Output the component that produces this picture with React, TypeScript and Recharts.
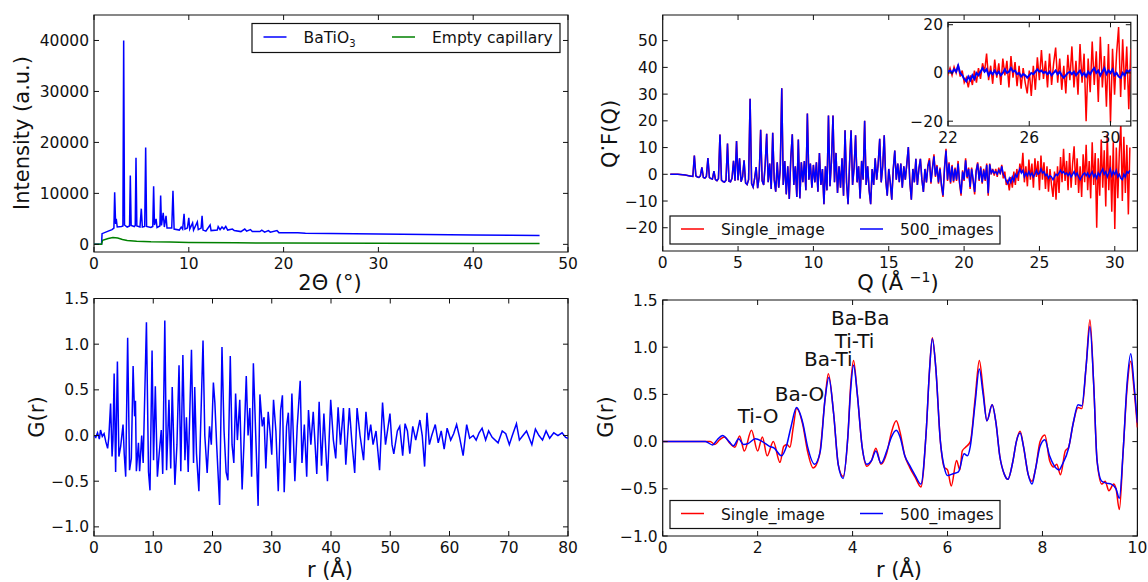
import { LineChart, Line, XAxis, YAxis, ReferenceArea, ReferenceDot, CartesianGrid } from 'recharts';

const FONT = '"DejaVu Sans", Verdana, sans-serif';
const BLUE = '#0000ff';
const RED = '#ff0000';
const GREEN = '#008000';

// ---- top left: raw diffraction pattern ----
const twoTheta = [
  0, 0.8, 0.85, 1.5, 1.9, 2.1, 2.18, 2.28, 2.35, 2.45,
  2.9, 3.05, 3.13, 3.22, 3.5, 3.75, 3.83, 3.92, 4.25, 4.35,
  4.43, 4.52, 4.85, 4.99, 5.1, 5.35, 5.45, 5.55, 6.0, 6.2,
  6.29, 6.38, 6.55, 6.65, 6.95, 7.03, 7.12, 7.3, 7.42, 7.6,
  7.7, 8.2, 8.33, 8.45, 9.0, 9.2, 9.35, 9.5, 9.6, 9.85,
  10.0, 10.1, 10.4, 10.5, 10.9, 11.0, 11.3, 11.4, 11.5, 11.8,
  12.25, 12.35, 13.0, 13.1, 13.3, 13.5, 13.7, 13.9, 14.1, 14.6,
  14.8, 15.5, 15.9, 16.1, 16.5, 16.7, 17.5, 17.7, 18.0, 18.4,
  18.6, 19.3, 19.5, 20.5, 21.5, 22.3, 25, 30, 35, 40,
  44, 47,
];
const batio3 = [
  0, 0, 2100, 2600, 2900, 3200, 10200, 4000, 5000, 3400,
  3500, 3600, 40000, 3800, 3400, 3600, 13500, 3700, 3500, 3700,
  17000, 3600, 3400, 7000, 3400, 3500, 19000, 3500, 3300, 3500,
  11400, 3800, 5000, 3300, 3600, 9600, 3700, 6200, 3400, 5600,
  3200, 3200, 10500, 3000, 2800, 3400, 3000, 6000, 3000, 3200,
  5200, 3000, 4200, 2800, 4400, 2900, 3200, 5600, 2800, 2600,
  3800, 2700, 2800, 3500, 2900, 3400, 3000, 3500, 2800, 3000,
  2700, 2500, 3000, 2600, 2900, 2500, 2500, 2800, 2400, 2700,
  2400, 2700, 2300, 2300, 2300, 2200, 2150, 2050, 1950, 1850,
  1800, 1750,
];
const capTheta = [0, 0.8, 0.9, 1.5, 2.0, 2.5, 3.0, 3.5, 4.5, 6, 8, 10, 15, 20, 30, 40, 47];
const capillary = [0, 0, 800, 1150, 1350, 1250, 950, 750, 600, 500, 450, 380, 300, 250, 200, 170, 150];

// ---- top right: reduced structure function ----
const qGrid = [
  0.5, 1.0, 1.5, 1.8,
  2.0, 2.1, 2.2, 2.3, 2.4, 2.5, 2.6, 2.7, 2.8, 2.9,
  3.0, 3.1, 3.2, 3.3, 3.4, 3.5, 3.6, 3.7, 3.8, 3.9,
  4.0, 4.1, 4.2, 4.3, 4.4, 4.5, 4.6, 4.7, 4.8, 4.9,
  5.0, 5.1, 5.2, 5.3, 5.4, 5.5, 5.6, 5.7, 5.8, 5.9,
  6.0, 6.1, 6.2, 6.3, 6.4, 6.5, 6.6, 6.7, 6.8, 6.9,
  7.0, 7.1, 7.2, 7.3, 7.4, 7.5, 7.6, 7.7, 7.8, 7.9,
  8.0, 8.1, 8.2, 8.3, 8.4, 8.5, 8.6, 8.7, 8.8, 8.9,
  9.0, 9.1, 9.2, 9.3, 9.4, 9.5, 9.6, 9.7, 9.8, 9.9,
  10.0, 10.1, 10.2, 10.3, 10.4, 10.5, 10.6, 10.7, 10.8, 10.9,
  11.0, 11.1, 11.2, 11.3, 11.4, 11.5, 11.6, 11.7, 11.8, 11.9,
  12.0, 12.1, 12.2, 12.3, 12.4, 12.5, 12.6, 12.7, 12.8, 12.9,
  13.0, 13.1, 13.2, 13.3, 13.4, 13.5, 13.6, 13.7, 13.8, 13.9,
  14.0, 14.1, 14.2, 14.3, 14.4, 14.5, 14.6, 14.7, 14.8, 14.9,
  15.0, 15.1, 15.2, 15.3, 15.4, 15.5, 15.6, 15.7, 15.8, 15.9,
  16.0, 16.1, 16.2, 16.3, 16.4, 16.5, 16.6, 16.7, 16.8, 16.9,
  17.0, 17.1, 17.2, 17.3, 17.4, 17.5, 17.6, 17.7, 17.8, 17.9,
  18.0, 18.1, 18.2, 18.3, 18.4, 18.5, 18.6, 18.7, 18.8, 18.9,
  19.0, 19.1, 19.2, 19.3, 19.4, 19.5, 19.6, 19.7, 19.8, 19.9,
  20.0, 20.1, 20.2, 20.3, 20.4, 20.5, 20.6, 20.7, 20.8, 20.9,
  21.0, 21.1, 21.2, 21.3, 21.4, 21.5, 21.6, 21.7, 21.8, 21.9,
  22.0, 22.1, 22.2, 22.3, 22.4, 22.5, 22.6, 22.7, 22.8, 22.9,
  23.0, 23.1, 23.2, 23.3, 23.4, 23.5, 23.6, 23.7, 23.8, 23.9,
  24.0, 24.1, 24.2, 24.3, 24.4, 24.5, 24.6, 24.7, 24.8, 24.9,
  25.0, 25.1, 25.2, 25.3, 25.4, 25.5, 25.6, 25.7, 25.8, 25.9,
  26.0, 26.1, 26.2, 26.3, 26.4, 26.5, 26.6, 26.7, 26.8, 26.9,
  27.0, 27.1, 27.2, 27.3, 27.4, 27.5, 27.6, 27.7, 27.8, 27.9,
  28.0, 28.1, 28.2, 28.3, 28.4, 28.5, 28.6, 28.7, 28.8, 28.9,
  29.0, 29.1, 29.2, 29.3, 29.4, 29.5, 29.6, 29.7, 29.8, 29.9,
  30.0, 30.1, 30.2, 30.3, 30.4, 30.5, 30.6, 30.7, 30.8, 30.9,
  31.0,
];
const qf500 = [
  0.0, 0.0, -0.3, -0.6,
  -0.8, 7.0, -0.6, -1.0, -1.2, -0.6, 2.6, -1.2, -1.4, -0.8,
  6.1, -1.2, -1.6, -1.8, 1.2, -2.0, -2.4, -1.6, 14.9, -2.2,
  -2.7, -2.9, -2.2, 11.5, -2.6, -2.8, -1.5, 5.0, -2.4, 12.4,
  -2.2, 6.0, -2.8, -1.0, 5.2, -3.2, -3.8, -2.0, 28.3, -3.5,
  -4.8, -1.5, 2.7, -5.2, -1.0, 16.7, -2.5, -4.0, 3.5, 15.2,
  -3.0, 4.0, -5.5, 15.5, -2.0, -6.5, 4.5, -5.0, 2.0, 32.2,
  -4.0, 5.0, -7.5, 3.0, -9.2, 6.0, 15.0, -4.0, 3.0, -8.5,
  13.0, -9.0, 4.5, -3.0, 5.0, -6.0, 22.7, -2.0, 4.0, -5.0,
  3.5, -3.0, 4.5, -6.5, 8.0, -4.0, 2.0, -11.2, 3.0, -6.0,
  22.0, -4.5, 5.0, 22.0, -3.0, 8.0, -7.0, 3.0, -5.0, 6.0,
  -8.0, 16.5, -3.0, -11.2, 4.0, 16.5, -4.0, 2.5, 14.6, -3.0,
  3.0, -9.0, 5.0, -2.0, 20.0, -4.0, 3.0, -6.0, -11.2, 2.0,
  -4.0, 6.0, -2.0, 4.0, 13.3, -3.0, 3.0, 14.6, -2.0, -8.0,
  2.0, -3.0, -9.5, 2.0, 8.9, -2.0, 4.0, -3.0, 4.0, -5.0,
  3.0, -2.0, 4.0, 10.2, -3.0, -9.5, 2.0, -3.0, 5.8, -4.0,
  2.0, 5.8, -2.0, -6.6, 2.0, -3.0, 3.0, 5.2, -3.0, 2.0,
  6.7, -0.5, 3.0, -3.0, 2.0, -4.0, -7.9, 2.0, 8.9, -2.0,
  4.0, -3.0, 3.0, -2.5, 2.0, -2.0, 4.0, -3.0, -7.2, 1.0,
  -2.0, 5.2, -1.0, 2.0, -4.7, 2.0, -2.0, -6.6, 1.0, 4.0,
  -2.0, 2.5, -3.0, 1.5, -2.0, 3.5, -7.1, 3.7, 0.5, 1.5,
  0.5, 1.0, 0.0, 1.5, 0.5, 3.0, 0.0, -1.0, -2.5, -3.5,
  -1.5, -3.0, -1.0, -2.5, 0.0, -1.0, 0.5, 2.0, 0.5, 1.5,
  -1.0, 0.5, -0.5, 1.0, -0.5, 0.5, -1.0, 0.0, 1.5, 0.0,
  0.5, 2.0, 0.5, 1.0, -0.5, 0.0, -1.5, -0.5, -1.0, -2.0,
  -1.0, 0.0, -0.5, 0.5, 1.5, 0.5, 1.0, 0.0, 0.5, -0.5,
  0.5, -1.0, 0.0, 1.0, -0.5, 0.5, -1.0, -2.0, -1.0, 0.0,
  0.5, -0.5, 0.5, -1.0, 0.0, 1.0, -1.0, 0.0, -1.5, 0.5,
  -0.5, 1.0, 2.0, 0.0, 1.0, -1.0, 0.5, 2.0, -0.5, 1.0,
  0.0, 1.5, -1.0, 0.0, -1.5, -2.0, 0.0, -1.0, 1.0, 0.5,
  1.5,
];
// single image: identical to the averaged curve below Q = 17.6, noisy above
const qfSingleTail = [
  3.5, 6.0, -3.5, 2.5,
  7.5, -1.0, 3.5, -3.5, 2.5, -4.5, -8.5, 2.5, 9.5, -2.5,
  4.5, -3.5, 3.5, -3.0, 2.5, -2.5, 5.0, -3.5, -8.0, 1.5,
  -2.5, 6.0, -1.5, 2.5, -5.5, 2.5, -2.5, -7.5, 1.5, 4.5,
  -2.5, 3.0, -3.5, 2.0, -2.5, 4.0, -8.0, 4.0, 0.0, 2.0,
  -0.5, 2.0, -1.0, 2.5, 0.0, 3.5, -1.5, 1.0, -4.0, -2.0,
  -6.0, -1.0, -5.0, 1.0, -4.0, 2.0, -2.5, 4.0, 0.5, 8.0,
  -3.0, 3.0, -4.5, 5.5, -2.0, 4.0, -5.0, 6.0, -1.0, 5.0,
  -6.0, 7.0, -2.0, 4.5, -5.5, 3.0, -6.5, 2.0, -4.0, -8.5,
  1.0, -9.5, 3.0, -7.0, 6.5, -3.0, 9.5, -2.5, 5.0, -6.0,
  8.0, -5.0, 4.0, 10.5, -4.0, 6.0, -7.0, 3.0, -8.5, 7.5,
  -3.0, 11.0, -6.0, 5.0, -9.0, 12.0, -4.0, 8.0, -20.0, 6.0,
  -8.0, 13.0, -5.0, 9.0, -12.0, 15.0, -6.0, 7.0, -14.0, 12.0,
  -20.5, 10.0, -9.0, 8.0, 19.0, -10.0, 14.0, -7.0, 11.0, -15.0,
  10.0,
];
const qfSingle = [...qf500.slice(0, 160), ...qfSingleTail];

// ---- bottom left: PDF up to 80 A ----
const rLong = [
  0.0, 0.3, 0.6, 0.9, 1.1, 1.4, 1.7, 2.0, 2.3, 2.5,
  2.8, 3.05, 3.2, 3.4, 3.65, 3.95, 4.2, 4.5, 4.9, 5.1,
  5.35, 5.68, 6.0, 6.3, 6.6, 6.85, 7.0, 7.15, 7.5, 7.7,
  8.05, 8.3, 8.85, 9.2, 9.45, 9.8, 10.05, 10.35, 10.7, 11.0,
  11.35, 11.6, 11.95, 12.25, 12.65, 12.95, 13.2, 13.65, 14.0, 14.35,
  14.65, 15.0, 15.35, 15.6, 15.9, 16.45, 16.8, 17.0, 17.3, 17.7,
  18.4, 18.7, 19.1, 19.5, 19.8, 20.15, 20.4, 20.7, 21.2, 21.6,
  21.95, 22.3, 22.6, 23.0, 23.3, 23.6, 23.9, 24.2, 24.6, 25.0,
  25.3, 25.7, 26.0, 26.3, 26.6, 26.9, 27.3, 27.7, 28.0, 28.4,
  28.7, 29.0, 29.4, 29.7, 30.0, 30.3, 30.7, 31.1, 31.5, 31.8,
  32.1, 32.5, 32.8, 33.1, 33.4, 33.9, 34.3, 34.8, 35.1, 35.5,
  35.9, 36.2, 36.6, 37.0, 37.6, 38.0, 38.4, 38.8, 39.4, 39.95,
  40.4, 40.8, 41.2, 41.6, 42.1, 42.5, 43.1, 43.5, 44.0, 44.4,
  44.9, 45.5, 45.9, 46.3, 46.7, 47.1, 47.6, 48.2, 48.7, 49.2,
  49.95, 50.3, 50.6, 51.2, 51.6, 52.1, 52.5, 52.9, 53.3, 53.8,
  54.3, 55.0, 55.4, 55.8, 56.2, 56.6, 57.0, 57.6, 58.1, 58.6,
  59.1, 59.6, 60.2, 60.7, 61.2, 61.7, 62.3, 62.9, 63.4, 64.0,
  64.5, 65.0, 65.5, 66.1, 66.6, 67.2, 68.2, 68.9, 69.5, 70.1,
  70.6, 71.3, 71.8, 72.4, 73.0, 73.9, 74.5, 75.1, 75.7, 76.3,
  76.9, 77.6, 78.3, 79.0, 79.6, 80.0,
];
const gLong = [
  0.0, -0.02, 0.03, -0.04, 0.06, -0.01, 0.02, -0.07, -0.14, -0.02,
  0.35, -0.23, -0.05, 0.68, -0.4, 0.81, -0.23, -0.12, 0.12, -0.2,
  -0.45, 1.07, -0.38, -0.25, 0.76, 0.21, 0.38, -0.39, -0.08, -0.39,
  0.0, -0.3, 1.24, -0.4, -0.6, 0.93, -0.27, 0.54, -0.45, -0.2,
  0.06, -0.42, 1.26, -0.38, 0.39, -0.36, 0.53, -0.54, -0.1, 0.77,
  -0.39, 0.88, -0.27, 0.2, -0.4, 0.94, -0.3, 0.53, -0.2, -0.61,
  1.04, 0.0, -0.41, 0.1, -0.1, 0.58, 0.36, -0.1, -0.76, 0.97,
  0.05, -0.4, -0.49, 0.87, -0.1, -0.3, 0.46, -0.05, 0.39, -0.59,
  -0.1, 0.65, 0.0, 0.3, -0.45, 0.79, 0.0, -0.77, 0.45, 0.1,
  0.2, -0.36, 0.26, 0.05, -0.21, 0.39, 0.05, -0.61, 0.28, 0.44,
  -0.62, 0.1, 0.25, -0.3, 0.46, -0.5, 0.1, 0.6, -0.3, 0.12,
  -0.45, 0.28, -0.1, 0.26, -0.42, 0.37, -0.33, 0.24, -0.5, 0.39,
  -0.05, -0.25, 0.31, -0.1, 0.3, -0.32, 0.3, -0.05, -0.41, 0.3,
  0.0, -0.27, 0.26, -0.05, 0.12, -0.1, 0.05, -0.38, 0.36, -0.1,
  0.24, -0.1, -0.2, 0.05, 0.1, -0.22, 0.13, 0.05, -0.2, 0.1,
  -0.05, 0.17, 0.0, -0.34, 0.25, -0.1, 0.0, 0.12, -0.08, 0.05,
  -0.15, 0.08, -0.05, 0.02, 0.12, -0.02, -0.22, 0.12, -0.03, 0.0,
  -0.05, 0.03, 0.08, -0.05, 0.05, -0.02, -0.08, 0.05, 0.02, -0.1,
  0.0, 0.13, -0.05, 0.0, 0.05, -0.1, 0.07, 0.0, -0.05, 0.05,
  -0.03, 0.03, 0.0, 0.03, -0.02, -0.03,
];

// ---- bottom right: PDF up to 10 A ----
const rShort500 = [
  0, 0.9, 1.05, 1.15, 1.26, 1.4, 1.49, 1.6, 1.7, 1.8,
  1.95, 2.1, 2.25, 2.35, 2.5, 2.6, 2.7, 2.82, 2.95, 3.05,
  3.2, 3.32, 3.42, 3.5, 3.6, 3.7, 3.8, 3.9, 3.96, 4.02,
  4.1, 4.2, 4.3, 4.4, 4.49, 4.6, 4.72, 4.82, 4.92, 5.0,
  5.1, 5.2, 5.32, 5.44, 5.55, 5.62, 5.68, 5.75, 5.85, 5.93,
  6.0, 6.12, 6.23, 6.35, 6.42, 6.48, 6.58, 6.67, 6.75, 6.83,
  6.94, 7.02, 7.1, 7.2, 7.27, 7.38, 7.45, 7.53, 7.6, 7.7,
  7.78, 7.85, 7.95, 8.05, 8.15, 8.24, 8.35, 8.42, 8.55, 8.65,
  8.75, 8.83, 8.92, 9.0, 9.08, 9.15, 9.25, 9.35, 9.45, 9.55,
  9.62, 9.7, 9.78, 9.86, 9.93, 10.0,
];
const g500 = [
  0, 0, -0.035, 0.02, 0.065, 0.0, -0.045, 0.03, -0.03, -0.02,
  0.03, 0.0, -0.05, -0.07, -0.15, -0.06, 0.15, 0.36, 0.2, -0.05,
  -0.24, -0.1, 0.45, 0.68, 0.3, -0.25, -0.39, 0.05, 0.55, 0.81,
  0.5, -0.05, -0.24, -0.2, -0.1, -0.23, -0.1, 0.05, 0.12, 0.05,
  -0.15, -0.25, -0.36, -0.45, 0.1, 0.75, 1.09, 0.8, 0.0, -0.27,
  -0.36, -0.34, -0.32, -0.13, -0.15, -0.05, 0.4, 0.77, 0.5, 0.22,
  0.39, 0.2, -0.15, -0.35, -0.4, -0.2, 0.0, 0.09, -0.05, -0.35,
  -0.45, -0.3, -0.05, 0.02, -0.15, -0.25, -0.3, -0.24, -0.07, 0.2,
  0.39, 0.38, 0.8, 1.22, 0.6, -0.2, -0.42, -0.44, -0.45, -0.5,
  -0.6, -0.1, 0.6, 0.93, 0.6, 0.2,
];
const rShortSingle = [
  0, 0.9, 1.0, 1.1, 1.2, 1.3, 1.42, 1.52, 1.62, 1.72,
  1.87, 2.0, 2.1, 2.2, 2.33, 2.47, 2.55, 2.62, 2.68, 2.75,
  2.82, 2.95, 3.05, 3.17, 3.3, 3.42, 3.49, 3.6, 3.7, 3.8,
  3.9, 3.96, 4.02, 4.1, 4.2, 4.3, 4.4, 4.49, 4.6, 4.72,
  4.82, 4.92, 5.0, 5.1, 5.2, 5.32, 5.44, 5.55, 5.62, 5.68,
  5.75, 5.85, 5.93, 6.0, 6.08, 6.19, 6.26, 6.31, 6.38, 6.48,
  6.58, 6.67, 6.75, 6.83, 6.94, 7.02, 7.1, 7.2, 7.27, 7.38,
  7.45, 7.53, 7.6, 7.7, 7.78, 7.85, 7.95, 8.05, 8.15, 8.24,
  8.3, 8.38, 8.48, 8.55, 8.65, 8.75, 8.83, 8.92, 9.0, 9.08,
  9.15, 9.25, 9.32, 9.4, 9.5, 9.55, 9.62, 9.7, 9.78, 9.86,
  9.93, 10.0,
];
const gSingle = [
  0, 0, 0.0, -0.03, 0.02, 0.05, -0.02, -0.06, 0.06, -0.1,
  0.12, -0.1, 0.05, -0.15, 0.0, -0.22, -0.05, -0.03, -0.06, 0.15,
  0.35, 0.18, -0.1, -0.28, -0.15, 0.45, 0.72, 0.3, -0.25, -0.37,
  0.05, 0.6, 0.86, 0.5, -0.05, -0.26, -0.2, -0.07, -0.24, -0.12,
  0.1, 0.22, 0.1, -0.15, -0.27, -0.38, -0.48, 0.1, 0.75, 1.1,
  0.8, 0.0, -0.27, -0.3, -0.47, -0.2, -0.3, -0.1, -0.06, 0.0,
  0.45, 0.86, 0.55, 0.22, 0.39, 0.2, -0.15, -0.35, -0.4, -0.2,
  0.0, 0.11, -0.05, -0.35, -0.42, -0.3, 0.0, 0.07, -0.2, -0.27,
  -0.24, -0.35, -0.1, -0.06, 0.2, 0.36, 0.35, 0.8, 1.29, 0.6,
  -0.2, -0.45, -0.42, -0.52, -0.45, -0.5, -0.72, -0.1, 0.55, 0.85,
  0.55, 0.15,
];

const peakLabels = [
  { text: 'Ti-O', r: 2.01, g: 0.195 },
  { text: 'Ba-O', r: 2.88, g: 0.425 },
  { text: 'Ba-Ti', r: 3.49, g: 0.8 },
  { text: 'Ti-Ti', r: 4.04, g: 0.99 },
  { text: 'Ba-Ba', r: 4.16, g: 1.24 },
];

const seriesNames = { batio3: 'BaTiO', capillary: 'Empty capillary', single: 'Single_image', avg: '500_images' };

const toPoints = (xs: number[], ys: number[]) => xs.map((x, i) => ({ x, y: ys[i] }));

const minus = (s: string) => s.replace('-', '\u2212');
const fmtInt = (v: number) => minus(String(v));
const fmt1 = (v: number) => minus(v.toFixed(1));

const TICK_FONT = 15.5;

type Margin = { top: number; right: number; bottom: number; left: number };

const xTick = (top: number, bottom: number, fmt: (v: number) => string) => (p: any) => (
  <g>
    <line x1={p.x} x2={p.x} y1={bottom} y2={bottom - 5} stroke="#111" />
    <line x1={p.x} x2={p.x} y1={top} y2={top + 5} stroke="#111" />
    <text x={p.x} y={bottom + 17} textAnchor="middle" fontSize={TICK_FONT} fontFamily={FONT} fill="#111">
      {fmt(p.payload.value)}
    </text>
  </g>
);

const yTick = (left: number, right: number, fmt: (v: number) => string) => (p: any) => (
  <g>
    <line x1={left} x2={left + 5} y1={p.y} y2={p.y} stroke="#111" />
    <line x1={right} x2={right - 5} y1={p.y} y2={p.y} stroke="#111" />
    <text x={left - 5} y={p.y + 5.5} textAnchor="end" fontSize={TICK_FONT} fontFamily={FONT} fill="#111">
      {fmt(p.payload.value)}
    </text>
  </g>
);

interface PanelProps {
  left: number;
  top: number;
  width: number;
  height: number;
  plot: Margin; // distance of the plot frame from each chart edge
  xDomain: [number, number];
  yDomain: [number, number];
  xTicks: number[];
  yTicks: number[];
  xFmt: (v: number) => string;
  yFmt: (v: number) => string;
  background?: string;
  children?: any;
}

// axes are given 1px of size so recharts renders their ticks; the margin makes up the rest
function Panel({ left, top, width, height, plot, xDomain, yDomain, xTicks, yTicks, xFmt, yFmt, background, children }: PanelProps) {
  const plotTop = plot.top;
  const plotBottom = height - plot.bottom;
  const plotLeft = plot.left;
  const plotRight = width - plot.right;
  const margin = { top: plot.top, right: plot.right, bottom: plot.bottom - 1, left: plot.left - 1 };
  return (
    <div className="fig-panel" style={{ position: 'absolute', left, top }}>
      <LineChart width={width} height={height} margin={margin}>
        {background && <CartesianGrid horizontal={false} vertical={false} fill={background} stroke="none" />}
        <XAxis
          type="number"
          dataKey="x"
          domain={xDomain}
          ticks={xTicks}
          interval={0}
          allowDataOverflow
          height={1}
          axisLine={false}
          tickLine={false}
          tick={xTick(plotTop, plotBottom, xFmt)}
        />
        <YAxis
          type="number"
          dataKey="y"
          domain={yDomain}
          ticks={yTicks}
          interval={0}
          allowDataOverflow
          width={1}
          axisLine={false}
          tickLine={false}
          tick={yTick(plotLeft, plotRight, yFmt)}
        />
        <ReferenceArea x1={xDomain[0]} x2={xDomain[1]} y1={yDomain[0]} y2={yDomain[1]} fill="none" stroke="#111" strokeWidth={1.2} />
        {children}
      </LineChart>
    </div>
  );
}

const lineProps = { type: 'linear' as const, dot: false, activeDot: false, isAnimationActive: false, strokeWidth: 1.5 };

function LegendBox({ x, y, w, h, items }: { x: number; y: number; w: number; h: number; items: { color: string; x: number; label: any }[] }) {
  const cy = y + h / 2;
  return (
    <g>
      <rect x={x} y={y} width={w} height={h} fill="#fff" stroke="#111" strokeWidth={1.2} />
      {items.map((it, i) => (
        <g key={i}>
          <line x1={it.x} x2={it.x + 23} y1={cy - 1} y2={cy - 1} stroke={it.color} strokeWidth={1.5} />
          <text x={it.x + 40} y={cy + 5} fontSize={15.5} fill="#111">
            {it.label}
          </text>
        </g>
      ))}
    </g>
  );
}

export default function App() {
  const xrdBlue = toPoints(twoTheta, batio3);
  const xrdGreen = toPoints(capTheta, capillary);
  const qfAvg = toPoints(qGrid, qf500);
  const qfOne = toPoints(qGrid, qfSingle);
  const insetAvg = qfAvg.filter((d) => d.x >= 21.9);
  const insetOne = qfOne.filter((d) => d.x >= 21.9);
  const pdfLong = toPoints(rLong, gLong);
  const pdfAvg = toPoints(rShort500, g500);
  const pdfOne = toPoints(rShortSingle, gSingle);

  return (
    <div style={{ position: 'absolute', left: 0, top: 0, width: 1148, height: 582, background: '#fff', fontFamily: FONT, overflow: 'hidden' }}>
      <style>{'.fig-panel svg { overflow: visible; }'}</style>
      <Panel
        left={0}
        top={0}
        width={574}
        height={291}
        plot={{ top: 15, right: 6, bottom: 39, left: 94 }}
        xDomain={[0, 50]}
        yDomain={[-1500, 45000]}
        xTicks={[0, 10, 20, 30, 40, 50]}
        yTicks={[0, 10000, 20000, 30000, 40000]}
        xFmt={fmtInt}
        yFmt={fmtInt}
      >
        <Line {...lineProps} data={xrdBlue} dataKey="y" stroke={BLUE} />
        <Line {...lineProps} data={xrdGreen} dataKey="y" stroke={GREEN} />
      </Panel>

      <Panel
        left={574}
        top={0}
        width={574}
        height={291}
        plot={{ top: 15, right: 10.6, bottom: 40, left: 88.7 }}
        xDomain={[0, 31.5]}
        yDomain={[-28.7, 59.6]}
        xTicks={[0, 5, 10, 15, 20, 25, 30]}
        yTicks={[-20, -10, 0, 10, 20, 30, 40, 50]}
        xFmt={fmtInt}
        yFmt={fmtInt}
      >
        <Line {...lineProps} data={qfOne} dataKey="y" stroke={RED} />
        <Line {...lineProps} data={qfAvg} dataKey="y" stroke={BLUE} />
      </Panel>

      <Panel
        left={900}
        top={10}
        width={240}
        height={140}
        plot={{ top: 12.3, right: 9.2, bottom: 24, left: 48 }}
        xDomain={[22, 31]}
        yDomain={[-22, 21]}
        xTicks={[22, 26, 30]}
        yTicks={[-20, 0, 20]}
        xFmt={fmtInt}
        yFmt={fmtInt}
        background="#fff"
      >
        <Line {...lineProps} data={insetOne} dataKey="y" stroke={RED} />
        <Line {...lineProps} data={insetAvg} dataKey="y" stroke={BLUE} strokeWidth={2} />
      </Panel>

      <Panel
        left={0}
        top={291}
        width={574}
        height={291}
        plot={{ top: 7.5, right: 6, bottom: 46, left: 94 }}
        xDomain={[0, 80]}
        yDomain={[-1.1, 1.5]}
        xTicks={[0, 10, 20, 30, 40, 50, 60, 70, 80]}
        yTicks={[-1, -0.5, 0, 0.5, 1, 1.5]}
        xFmt={fmtInt}
        yFmt={fmt1}
      >
        <Line {...lineProps} data={pdfLong} dataKey="y" stroke={BLUE} />
      </Panel>

      <Panel
        left={574}
        top={291}
        width={574}
        height={291}
        plot={{ top: 9, right: 10.6, bottom: 46, left: 88.7 }}
        xDomain={[0, 10]}
        yDomain={[-1, 1.5]}
        xTicks={[0, 2, 4, 6, 8, 10]}
        yTicks={[-1, -0.5, 0, 0.5, 1, 1.5]}
        xFmt={fmtInt}
        yFmt={fmt1}
      >
        <Line {...lineProps} type="monotone" data={pdfOne} dataKey="y" stroke={RED} />
        <Line {...lineProps} type="monotone" data={pdfAvg} dataKey="y" stroke={BLUE} />
        {peakLabels.map((p) => (
          <ReferenceDot
            key={p.text}
            x={p.r}
            y={p.g}
            r={0}
            shape={(s: any) => (
              <text x={s.cx} y={s.cy} textAnchor="middle" fontSize={20} fontFamily={FONT} fill="#111">
                {p.text}
              </text>
            )}
          />
        ))}
      </Panel>

      <svg width={1148} height={582} style={{ position: 'absolute', left: 0, top: 0, pointerEvents: 'none' }} fontFamily={FONT} fill="#111">
        <text x={22} y={133} transform="rotate(-90 22 133)" textAnchor="middle" dominantBaseline="central" fontSize={21}>
          Intensity (a.u.)
        </text>
        <text x={330} y={290} textAnchor="middle" fontSize={21}>
          2Θ (°)
        </text>

        <text x={610} y={134} transform="rotate(-90 610 134)" textAnchor="middle" dominantBaseline="central" fontSize={21}>
          Q<tspan dy={-7}>·</tspan>
          <tspan dy={7}>F(Q)</tspan>
        </text>
        <text x={898} y={290} textAnchor="middle" fontSize={21}>
          Q (Å <tspan fontSize={14} dy={-8}>−1</tspan>
          <tspan dy={8}>)</tspan>
        </text>

        <text x={37} y={417} transform="rotate(-90 37 417)" textAnchor="middle" dominantBaseline="central" fontSize={21}>
          G(r)
        </text>
        <text x={330} y={577} textAnchor="middle" fontSize={21}>
          r (Å)
        </text>

        <text x={606} y={417} transform="rotate(-90 606 417)" textAnchor="middle" dominantBaseline="central" fontSize={21}>
          G(r)
        </text>
        <text x={899} y={577} textAnchor="middle" fontSize={21}>
          r (Å)
        </text>

        <LegendBox
          x={252}
          y={23.5}
          w={308}
          h={29}
          items={[
            {
              color: BLUE,
              x: 263.5,
              label: (
                <>
                  {seriesNames.batio3}
                  <tspan fontSize={10} dy={4}>3</tspan>
                </>
              ),
            },
            { color: GREEN, x: 392, label: seriesNames.capillary },
          ]}
        />
        <LegendBox
          x={670}
          y={216}
          w={330}
          h={28}
          items={[
            { color: RED, x: 681, label: seriesNames.single },
            { color: BLUE, x: 860, label: seriesNames.avg },
          ]}
        />
        <LegendBox
          x={670}
          y={500.5}
          w={330}
          h={28}
          items={[
            { color: RED, x: 681, label: seriesNames.single },
            { color: BLUE, x: 860, label: seriesNames.avg },
          ]}
        />
      </svg>
    </div>
  );
}
